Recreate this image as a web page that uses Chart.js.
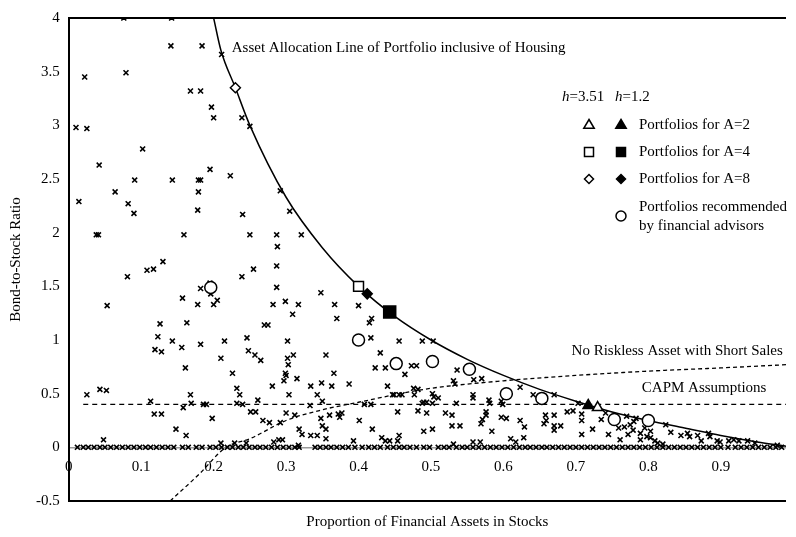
<!DOCTYPE html>
<html>
<head>
<meta charset="utf-8">
<script src="https://cdn.jsdelivr.net/npm/chart.js@4.4.1/dist/chart.umd.min.js"></script>
<style>
html, body { margin: 0; padding: 0; background: #fff; }
</style>
</head>
<body>
<canvas id="myChart" width="796" height="537"></canvas>
<script>
var ctx = document.getElementById('myChart').getContext('2d');
var serif = '"Liberation Serif", "Times New Roman", serif';

// household portfolios (x = stock share, y = bond-to-stock ratio)
var households = [
    [0.076,4.0],[0.142,4.0],[0.141,3.74],[0.184,3.74],[0.211,3.66],[0.022,3.45],[0.079,3.49],[0.168,3.32],[0.182,3.32],
    [0.197,3.17],[0.2,3.07],[0.239,3.07],[0.25,2.99],[0.01,2.98],[0.025,2.97],[0.102,2.78],[0.042,2.63],[0.195,2.59],
    [0.223,2.53],[0.091,2.49],[0.143,2.49],[0.179,2.49],[0.182,2.49],[0.064,2.38],[0.179,2.38],[0.292,2.39],[0.014,2.29],
    [0.082,2.27],[0.09,2.18],[0.178,2.21],[0.24,2.17],[0.305,2.2],[0.038,1.98],[0.041,1.98],[0.159,1.98],[0.25,1.98],
    [0.287,1.98],[0.321,1.98],[0.288,1.87],[0.13,1.73],[0.108,1.65],[0.117,1.66],[0.255,1.66],[0.287,1.69],[0.081,1.59],
    [0.239,1.59],[0.182,1.48],[0.287,1.49],[0.195,1.53],[0.196,1.43],[0.205,1.37],[0.053,1.32],[0.157,1.39],[0.178,1.33],
    [0.2,1.33],[0.348,1.44],[0.282,1.33],[0.299,1.36],[0.317,1.33],[0.367,1.33],[0.4,1.32],[0.309,1.24],[0.37,1.2],
    [0.418,1.2],[0.415,1.16],[0.126,1.15],[0.163,1.16],[0.27,1.14],[0.275,1.14],[0.123,1.03],[0.143,0.99],[0.156,0.93],
    [0.182,0.96],[0.215,0.99],[0.246,1.02],[0.302,0.99],[0.417,1.02],[0.456,0.99],[0.488,0.99],[0.503,0.99],[0.119,0.91],
    [0.128,0.89],[0.21,0.83],[0.248,0.9],[0.257,0.86],[0.265,0.81],[0.302,0.83],[0.31,0.86],[0.355,0.86],[0.43,0.88],
    [0.025,0.49],[0.043,0.54],[0.052,0.53],[0.048,0.07],[0.113,0.43],[0.118,0.31],[0.128,0.31],[0.161,0.74],[0.168,0.49],
    [0.158,0.37],[0.169,0.41],[0.148,0.17],[0.162,0.11],[0.186,0.4],[0.19,0.4],[0.198,0.27],[0.21,0.04],[0.226,0.69],
    [0.232,0.55],[0.236,0.49],[0.232,0.41],[0.24,0.4],[0.229,0.04],[0.245,0.04],[0.251,0.33],[0.258,0.33],[0.261,0.44],
    [0.268,0.25],[0.277,0.23],[0.281,0.57],[0.283,0.05],[0.29,0.07],[0.295,0.07],[0.292,0.23],[0.297,0.62],[0.299,0.69],
    [0.3,0.67],[0.303,0.77],[0.304,0.49],[0.3,0.32],[0.312,0.3],[0.315,0.64],[0.318,0.17],[0.322,0.12],[0.317,0.02],
    [0.333,0.39],[0.334,0.57],[0.334,0.11],[0.343,0.49],[0.343,0.11],[0.349,0.6],[0.348,0.27],[0.35,0.43],[0.35,0.2],
    [0.355,0.17],[0.355,0.08],[0.36,0.3],[0.363,0.57],[0.366,0.69],[0.372,0.31],[0.374,0.28],[0.377,0.32],[0.387,0.59],
    [0.393,0.06],[0.401,0.25],[0.408,0.4],[0.417,0.4],[0.419,0.17],[0.423,0.74],[0.437,0.74],[0.432,0.09],[0.437,0.06],
    [0.443,0.06],[0.44,0.57],[0.447,0.49],[0.464,0.68],[0.473,0.76],[0.48,0.76],[0.449,0.49],[0.456,0.49],[0.46,0.49],
    [0.476,0.55],[0.482,0.54],[0.477,0.49],[0.49,0.42],[0.494,0.42],[0.502,0.5],[0.504,0.47],[0.488,0.41],[0.502,0.41],
    [0.51,0.46],[0.454,0.33],[0.482,0.34],[0.494,0.32],[0.49,0.15],[0.502,0.17],[0.454,0.06],[0.456,0.11],[0.531,0.62],
    [0.533,0.59],[0.536,0.72],[0.535,0.41],[0.52,0.32],[0.529,0.3],[0.529,0.2],[0.54,0.2],[0.531,0.03],[0.559,0.63],
    [0.57,0.64],[0.558,0.49],[0.558,0.46],[0.576,0.33],[0.576,0.3],[0.571,0.26],[0.569,0.22],[0.58,0.44],[0.581,0.41],
    [0.584,0.15],[0.558,0.05],[0.568,0.05],[0.597,0.43],[0.599,0.4],[0.597,0.28],[0.604,0.27],[0.61,0.08],[0.617,0.05],
    [0.623,0.56],[0.623,0.25],[0.629,0.19],[0.628,0.09],[0.641,0.49],[0.67,0.49],[0.658,0.3],[0.67,0.3],[0.656,0.22],
    [0.659,0.25],[0.67,0.2],[0.67,0.16],[0.679,0.2],[0.688,0.33],[0.696,0.34],[0.708,0.31],[0.708,0.25],[0.708,0.12],
    [0.703,0.41],[0.723,0.17],[0.735,0.26],[0.741,0.32],[0.745,0.12],[0.761,0.07],[0.759,0.18],[0.767,0.19],[0.772,0.12],
    [0.775,0.21],[0.77,0.29],[0.78,0.24],[0.783,0.27],[0.779,0.16],[0.789,0.07],[0.789,0.13],[0.795,0.18],[0.798,0.1],
    [0.803,0.09],[0.803,0.15],[0.809,0.06],[0.813,0.04],[0.82,0.03],[0.824,0.21],[0.831,0.14],[0.845,0.11],[0.854,0.13],
    [0.857,0.1],[0.868,0.11],[0.873,0.06],[0.883,0.13],[0.885,0.1],[0.895,0.06],[0.899,0.05],[0.911,0.06],[0.918,0.07],
    [0.925,0.06],[0.937,0.06],[0.947,0.04],[0.978,0.02]
];

// households holding no bonds (ratio 0)
var zeroRowX = [
    0.012,0.02,0.027,0.035,0.043,0.05,0.058,0.066,0.074,0.082,0.09,0.098,0.106,0.113,0.121,0.129,0.137,0.145,0.157,0.165,
    0.176,0.184,0.195,0.203,0.211,0.219,0.226,0.234,0.241,0.249,0.257,0.264,0.272,0.28,0.288,0.296,0.304,0.312,0.318,0.34,
    0.347,0.355,0.362,0.37,0.378,0.386,0.395,0.405,0.414,0.422,0.43,0.44,0.448,0.456,0.463,0.471,0.48,0.49,0.498,0.51,
    0.518,0.525,0.535,0.543,0.55,0.558,0.566,0.574,0.582,0.59,0.598,0.606,0.614,0.622,0.63,0.637,0.645,0.653,0.66,0.668,
    0.676,0.684,0.692,0.7,0.708,0.716,0.724,0.732,0.74,0.748,0.756,0.764,0.772,0.78,0.788,0.796,0.804,0.812,0.82,0.828,
    0.836,0.844,0.852,0.86,0.868,0.876,0.884,0.892,0.9,0.91,0.92,0.928,0.936,0.944,0.952,0.96,0.968,0.976,0.984
];

var allocationLine = [[0.2,4.0],[0.21,3.7],[0.23,3.35],[0.25,3.0],[0.3,2.33],[0.35,1.86],[0.4,1.5],[0.45,1.22],[0.5,1.0],
    [0.55,0.82],[0.6,0.67],[0.65,0.54],[0.7,0.43],[0.75,0.33],[0.8,0.25],[0.85,0.18],[0.9,0.11],[0.95,0.05],[0.99,0.01]];
var noRisklessLine = [[0.14,-0.5],[0.18,-0.25],[0.217,0],[0.25,0.08],[0.3,0.25],[0.35,0.35],[0.4,0.42],[0.45,0.49],
    [0.5,0.55],[0.6,0.62],[0.7,0.67],[0.8,0.71],[0.9,0.74],[0.99,0.77]];
var capmLine = [[0.02,0.4],[0.99,0.4]];

var advisors = [[0.196,1.49],[0.4,1.0],[0.452,0.78],[0.502,0.8],[0.553,0.727],[0.604,0.5],[0.653,0.456],[0.753,0.26],[0.8,0.25]];
var a2Open = [[0.73,0.37]], a2Filled = [[0.717,0.39]];
var a4Open = [[0.4,1.5]], a4Filled = [[0.443,1.26]];
var a8Open = [[0.23,3.35]], a8Filled = [[0.412,1.43]];

var yTicks = [-0.5, 0, 0.5, 1, 1.5, 2, 2.5, 3, 3.5, 4];

function pts(arr) { return arr.map(function (p) { return {x: p[0], y: p[1]}; }); }

function marker(data, style, r, filled) {
    return {
        data: pts(data), pointStyle: style, pointRadius: r, pointHoverRadius: r,
        borderColor: '#000', backgroundColor: filled ? '#000' : '#fff', pointBorderWidth: 1.5, showLine: false, order: 0
    };
}

function shape(c, kind, x, y, r, filled) {
    c.beginPath();
    if (kind === 'triangle') {
        c.moveTo(x, y - r); c.lineTo(x + r * 0.95, y + r * 0.6); c.lineTo(x - r * 0.95, y + r * 0.6); c.closePath();
    } else if (kind === 'rect') {
        c.rect(x - r, y - r, 2 * r, 2 * r);
    } else if (kind === 'rectRot') {
        c.moveTo(x, y - r); c.lineTo(x + r, y); c.lineTo(x, y + r); c.lineTo(x - r, y); c.closePath();
    } else {
        c.arc(x, y, r, 0, Math.PI * 2);
    }
    c.fillStyle = filled ? '#000' : '#fff';
    c.fill();
    c.lineWidth = 1.5;
    c.strokeStyle = '#000';
    c.stroke();
}

var extras = {
    id: 'extras',
    afterDraw: function (chart) {
        var c = chart.ctx, xs = chart.scales.x, ys = chart.scales.y;
        c.save();
        c.fillStyle = '#000';
        c.font = '15px ' + serif;
        c.textBaseline = 'middle';
        c.fillText('Asset Allocation Line of Portfolio inclusive of Housing', xs.getPixelForValue(0.225), ys.getPixelForValue(3.72));
        c.fillText('No Riskless Asset with Short Sales', xs.getPixelForValue(0.694), ys.getPixelForValue(0.9));
        c.fillText('CAPM Assumptions', xs.getPixelForValue(0.791), ys.getPixelForValue(0.55));

        // legend block
        var hx = 562, hy = 97;
        c.font = 'italic 15px ' + serif;
        c.fillText('h', hx, hy);
        var w = c.measureText('h').width;
        c.font = '15px ' + serif;
        c.fillText('=3.51', hx + w, hy);
        c.font = 'italic 15px ' + serif;
        c.fillText('h', 615, hy);
        c.font = '15px ' + serif;
        c.fillText('=1.2', 615 + w, hy);

        var rows = [['triangle', 125, 'Portfolios for A=2', 5.5], ['rect', 152, 'Portfolios for A=4', 4.5], ['rectRot', 179, 'Portfolios for A=8', 4.5]];
        rows.forEach(function (r) {
            shape(c, r[0], 589, r[1], r[3], false);
            shape(c, r[0], 621, r[1], r[3], true);
            c.fillStyle = '#000';
            c.fillText(r[2], 639, r[1]);
        });
        shape(c, 'circle', 621, 216, 5, false);
        c.fillStyle = '#000';
        c.fillText('Portfolios recommended', 639, 207);
        c.fillText('by financial advisors', 639, 226);
        c.restore();
    }
};

var myChart = new Chart(ctx, {
    type: 'scatter',
    data: {
        datasets: [
            {data: pts(allocationLine), showLine: true, borderColor: '#000', borderWidth: 1.5, pointRadius: 0, cubicInterpolationMode: 'monotone', order: 1},
            {data: pts(noRisklessLine), showLine: true, borderColor: '#000', borderWidth: 1.3, borderDash: [4, 3], pointRadius: 0, cubicInterpolationMode: 'monotone', order: 1},
            {data: pts(capmLine), showLine: true, borderColor: '#000', borderWidth: 1.3, borderDash: [5, 4], pointRadius: 0, order: 1},
            {data: pts(households), pointStyle: 'crossRot', pointRadius: 3.5, borderColor: '#000', pointBorderWidth: 1.6, order: 2},
            {data: zeroRowX.map(function (v) { return {x: v, y: 0}; }), pointStyle: 'crossRot', pointRadius: 3.5, borderColor: '#000', pointBorderWidth: 1.6, order: 2},
            marker(advisors, 'circle', 6, false),
            marker(a2Open, 'triangle', 6, false), marker(a2Filled, 'triangle', 6, true),
            marker(a4Open, 'rect', 7, false), marker(a4Filled, 'rect', 8.5, true),
            marker(a8Open, 'rectRot', 5, false), marker(a8Filled, 'rectRot', 5, true)
        ]
    },
    options: {
        responsive: false,
        animation: false,
        layout: {padding: {left: 3, top: 3, right: 0, bottom: 2}},
        plugins: {legend: {display: false}, tooltip: {enabled: false}},
        scales: {
            x: {
                type: 'linear', min: 0, max: 0.99, position: {y: 0},
                grid: {display: false}, border: {display: false},
                ticks: {stepSize: 0.1, includeBounds: false, padding: 3, color: '#000', font: {family: serif, size: 15},
                    callback: function (v) { return Number(v.toFixed(1)).toString(); }}
            },
            x2: {
                type: 'linear', axis: 'x', position: 'bottom', min: 0, max: 0.99,
                grid: {display: false}, border: {display: false}, ticks: {display: false},
                title: {display: true, text: 'Proportion of Financial Assets in Stocks', color: '#000', font: {family: serif, size: 15}, padding: {top: 4, bottom: 4}}
            },
            y: {
                type: 'linear', min: -0.5, max: 4,
                afterBuildTicks: function (s) { s.ticks = yTicks.map(function (v) { return {value: v}; }); },
                border: {display: true, color: '#000', width: 2},
                grid: {
                    drawTicks: false,
                    color: function (c) { var v = c.tick && c.tick.value; if (v === 4 || v === -0.5) return '#000'; if (v === 0) return '#999'; return 'rgba(0,0,0,0)'; },
                    lineWidth: function (c) { var v = c.tick && c.tick.value; return v === 0 ? 1.5 : 2; }
                },
                ticks: {padding: 9, color: '#000', font: {family: serif, size: 15},
                    callback: function (v) { return Number(v.toFixed(1)).toString(); }},
                title: {display: true, text: 'Bond-to-Stock Ratio', color: '#000', font: {family: serif, size: 15}, padding: {top: 4, bottom: 2}}
            }
        }
    },
    plugins: [extras]
});
</script>
</body>
</html>
